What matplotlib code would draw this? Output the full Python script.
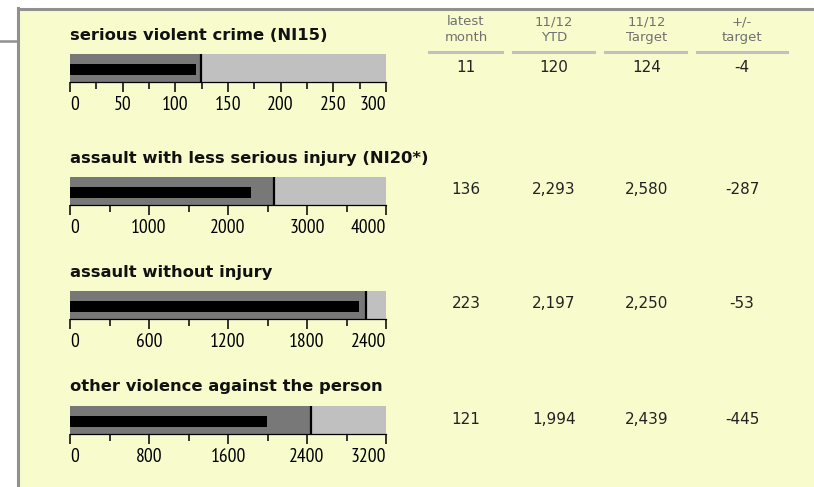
import matplotlib

matplotlib.use("Agg")
import matplotlib.pyplot as plt
from matplotlib.lines import Line2D
from matplotlib.patches import Rectangle
from matplotlib.ticker import MultipleLocator

W, H = 814, 487

titles = [
    "serious violent crime (NI15)",
    "assault with less serious injury (NI20*)",
    "assault without injury",
    "other violence against the person",
]
latest_month = ["11", "136", "223", "121"]
ytd = [120, 2293, 2197, 1994]
target = [124, 2580, 2250, 2439]
diff = [-4, -287, -53, -445]
axis_max = [300, 4000, 2400, 3200]
major_step = [50, 1000, 600, 800]

col_headers = ["latest\nmonth", "11/12\nYTD", "11/12\nTarget", "+/-\ntarget"]

BG = "#f8fccc"
DARK = "#787878"
LIGHT = "#c0c0c0"
BORDER = "#909090"

# pixel layout (top-left origin)
bar_left, bar_right = 70, 386
bar_tops = [54, 177, 291, 406]
bar_h = 28
title_y = [35, 158, 272, 387]
col_x = [466, 554, 647, 742]
col_lines = [(429, 502), (513, 594), (605, 686), (697, 787)]


def fx(x):
    return x / W


def fy(y):
    return 1 - y / H


fig = plt.figure(figsize=(W / 100, H / 100), dpi=100)
fig.patch.set_facecolor("white")

# panel background and border
fig.add_artist(Rectangle((fx(17), fy(H)), fx(W) - fx(17), fy(8) - fy(H),
                         transform=fig.transFigure, facecolor=BG, edgecolor="none", zorder=0))
fig.add_artist(Line2D([fx(17.5), fx(W)], [fy(8.5), fy(8.5)], transform=fig.transFigure,
                      color=BORDER, linewidth=2.2))
fig.add_artist(Line2D([fx(17.5), fx(17.5)], [fy(7.5), fy(H)], transform=fig.transFigure,
                      color=BORDER, linewidth=2.2))
fig.add_artist(Line2D([0, fx(16.5)], [fy(40.5), fy(40.5)], transform=fig.transFigure,
                      color=BORDER, linewidth=1.8))

tick_font = ["PT Sans Narrow", "Roboto Condensed", "DejaVu Sans"]

for i in range(4):
    top = bar_tops[i]
    ax = fig.add_axes([fx(bar_left), fy(top + bar_h), fx(bar_right) - fx(bar_left),
                       bar_h / H])
    ax.set_facecolor("none")
    ax.barh(0.5, axis_max[i], height=1, color=LIGHT, left=0)
    ax.barh(0.5, target[i], height=1, color=DARK, left=0)
    ax.barh(0.46, ytd[i], height=0.4, color="black", left=0)
    ax.plot([target[i], target[i]], [0, 1], color="black", linewidth=1.6,
            solid_capstyle="butt")
    ax.set_xlim(0, axis_max[i])
    ax.set_ylim(0, 1)
    for s in ["top", "right", "left"]:
        ax.spines[s].set_visible(False)
    ax.spines["bottom"].set_linewidth(0.9)
    ax.set_yticks([])
    ax.xaxis.set_major_locator(MultipleLocator(major_step[i]))
    ax.xaxis.set_minor_locator(MultipleLocator(major_step[i] / 2))
    ax.tick_params(axis="x", which="major", length=7.5, width=1.1, pad=2.5)
    ax.tick_params(axis="x", which="minor", length=5, width=1.1)
    ticks = ax.get_xticks()
    ticks = [t for t in ticks if 0 <= t <= axis_max[i]]
    ax.set_xticks(ticks)
    ax.set_xticklabels([f"{int(v)}" for v in ticks])
    for lab, v in zip(ax.get_xticklabels(), ticks):
        lab.set_family(tick_font)
        lab.set_fontsize(14)
        if v == 0:
            lab.set_horizontalalignment("left")
        elif v == axis_max[i]:
            lab.set_horizontalalignment("right")

    fig.text(fx(bar_left), fy(title_y[i]), titles[i], fontsize=11.75, fontweight="bold",
             va="center", ha="left", color="#111111")

    row_vals = [latest_month[i], f"{ytd[i]:,}", f"{target[i]:,}", f"{diff[i]}"]
    cy = top + bar_h / 2 - 1
    for x, v in zip(col_x, row_vals):
        fig.text(fx(x), fy(cy), v, fontsize=11, ha="center", va="center", color="#222222")

for x, h in zip(col_x, col_headers):
    fig.text(fx(x), fy(29.5), h, fontsize=9.5, ha="center", va="center", color="#707070",
             linespacing=1.25)

for x0, x1 in col_lines:
    fig.add_artist(Line2D([fx(x0), fx(x1)], [fy(51.7), fy(51.7)], transform=fig.transFigure,
                          color=LIGHT, linewidth=2.2))

fig.savefig("out.png", dpi=100, facecolor=fig.get_facecolor())
